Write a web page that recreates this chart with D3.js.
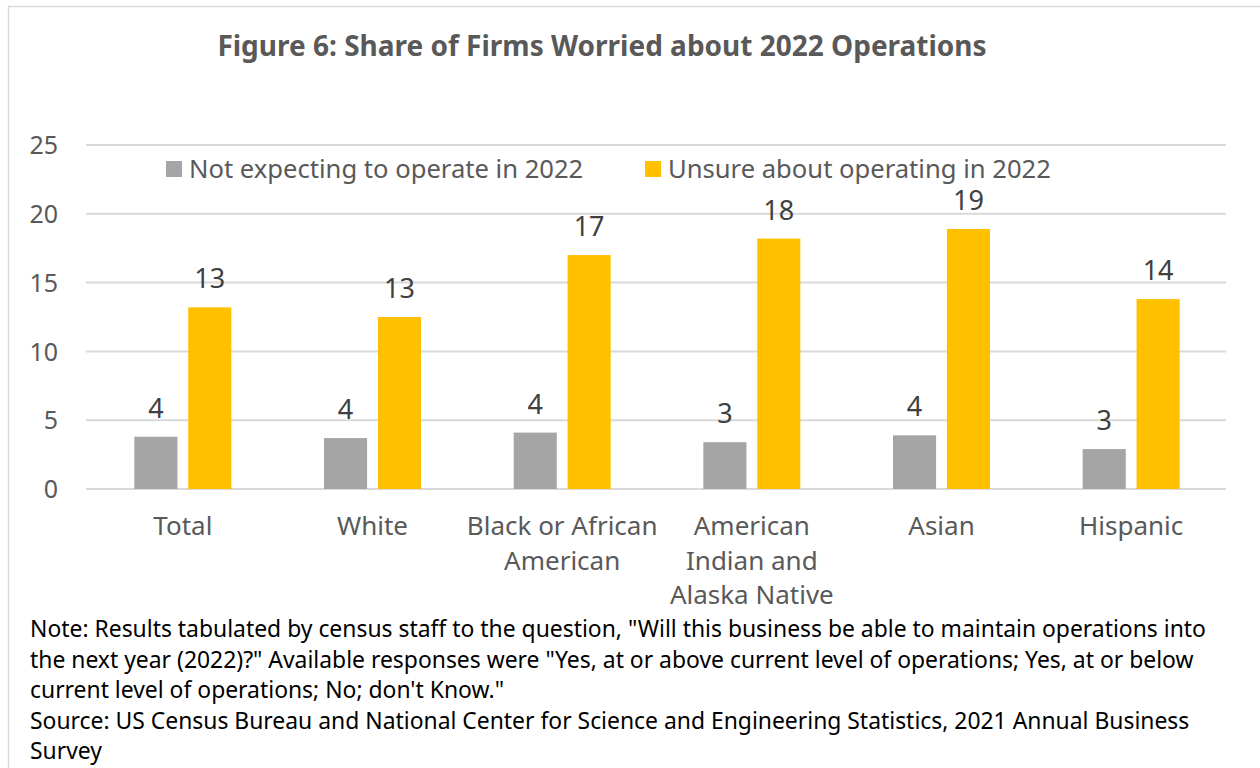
<!DOCTYPE html>
<html>
<head>
<meta charset="utf-8">
<script src="https://cdn.jsdelivr.net/npm/d3@7"></script>
<style>
  html, body { margin: 0; padding: 0; background: #fff; }
  svg { display: block; font-family: "Noto Sans", "Open Sans", sans-serif; }
</style>
</head>
<body>
<svg id="chart" width="1260" height="768"></svg>
<script>
// Share of firms (%) by owner group
const categories = ["Total", "White", "Black or African American", "American Indian and Alaska Native", "Asian", "Hispanic"];
const categoryLines = [["Total"], ["White"], ["Black or African", "American"], ["American", "Indian and", "Alaska Native"], ["Asian"], ["Hispanic"]];
const seriesNames = ["Not expecting to operate in 2022", "Unsure about operating in 2022"];
const notExpecting = [3.8, 3.7, 4.1, 3.4, 3.9, 2.9];
const unsure = [13.2, 12.5, 17.0, 18.2, 18.9, 13.8];
const yTicks = [0, 5, 10, 15, 20, 25];
const colors = ["#a5a5a5", "#ffc000"];
const titleText = "Figure 6: Share of Firms Worried about 2022 Operations";
const noteLines = [
  "Note: Results tabulated by census staff to the question, \"Will this business be able to maintain operations into",
  "the next year (2022)?\" Available responses were \"Yes, at or above current level of operations; Yes, at or below",
  "current level of operations; No; don't Know.\"",
  "Source: US Census Bureau and National Center for Science and Engineering Statistics, 2021 Annual Business",
  "Survey"
];

const rows = categories.map((c, i) => ({ category: c, lines: categoryLines[i], values: [notExpecting[i], unsure[i]] }));

const svg = d3.select("#chart");

// chart frame
svg.append("rect")
  .attr("x", 8.5).attr("y", 6.5)
  .attr("width", 1270).attr("height", 800)
  .attr("fill", "#fff").attr("stroke", "#d9d9d9").attr("stroke-width", 1.5);

svg.append("text")
  .attr("x", 602).attr("y", 56)
  .attr("text-anchor", "middle")
  .attr("font-size", 28).attr("font-weight", "bold")
  .attr("fill", "#595959")
  .text(titleText);

const plot = { left: 88, right: 1226, top: 145, bottom: 489 };

const y = d3.scaleLinear().domain([0, 25]).range([plot.bottom, plot.top]);
const x0 = d3.scaleBand().domain(categories).range([plot.left, plot.right]).padding(0);
const groupW = 97;
const x1 = d3.scaleBand().domain([0, 1]).range([0, groupW]).paddingInner(0.2).paddingOuter(0);

// gridlines
svg.append("g")
  .selectAll("line")
  .data(yTicks)
  .join("line")
  .attr("x1", plot.left - 2).attr("x2", plot.right)
  .attr("y1", d => y(d)).attr("y2", d => y(d))
  .attr("stroke", "#d9d9d9").attr("stroke-width", 2);

// y axis labels
const yAxis = d3.axisLeft(y).tickValues(yTicks).tickSize(0).tickPadding(0).tickFormat(d3.format("d"));
const yg = svg.append("g").attr("transform", `translate(${plot.left - 30},0)`).call(yAxis);
yg.select(".domain").remove();
yg.selectAll("text")
  .attr("font-size", 25).attr("fill", "#595959")
  .attr("font-family", "Noto Sans, sans-serif")
  .attr("dy", "0.35em");

// bars
const groups = svg.append("g")
  .selectAll("g")
  .data(rows)
  .join("g")
  .attr("transform", d => `translate(${x0(d.category) + (x0.bandwidth() - groupW) / 2},0)`);

groups.selectAll("rect")
  .data(d => d.values.map((v, k) => ({ v, k })))
  .join("rect")
  .attr("x", d => x1(d.k))
  .attr("width", x1.bandwidth())
  .attr("y", d => y(d.v))
  .attr("height", d => y(0) - y(d.v))
  .attr("fill", d => colors[d.k]);

// value labels
const fmt = d3.format(".0f");
groups.selectAll("text.val")
  .data(d => d.values.map((v, k) => ({ v, k })))
  .join("text")
  .attr("class", "val")
  .attr("x", d => x1(d.k) + x1.bandwidth() / 2)
  .attr("y", d => y(d.v) - 19)
  .attr("text-anchor", "middle")
  .attr("font-size", 27).attr("fill", "#404040")
  .text(d => fmt(d.v));

// category labels
const cat = svg.append("g")
  .selectAll("text")
  .data(rows)
  .join("text")
  .attr("x", d => x0(d.category) + x0.bandwidth() / 2)
  .attr("y", 535)
  .attr("text-anchor", "middle")
  .attr("font-size", 26).attr("fill", "#595959");
cat.selectAll("tspan")
  .data(d => d.lines.map((t, i) => ({ t, i, cx: x0(d.category) + x0.bandwidth() / 2 })))
  .join("tspan")
  .attr("x", d => d.cx)
  .attr("dy", d => d.i === 0 ? 0 : 34.5)
  .text(d => d.t);

// legend
const legendPos = [{ sx: 166, tx: 189 }, { sx: 645, tx: 668 }];
const legend = svg.append("g")
  .selectAll("g")
  .data(seriesNames)
  .join("g");
legend.append("rect")
  .attr("x", (d, i) => legendPos[i].sx).attr("y", 161)
  .attr("width", 16).attr("height", 16)
  .attr("fill", (d, i) => colors[i]);
legend.append("text")
  .attr("x", (d, i) => legendPos[i].tx).attr("y", 178)
  .attr("font-size", 25.6).attr("fill", "#595959")
  .text(d => d);

// note and source
svg.append("g")
  .selectAll("text")
  .data(noteLines)
  .join("text")
  .attr("x", 30)
  .attr("y", (d, i) => 637 + i * 30.5)
  .attr("font-size", 22.9).attr("fill", "#000")
  .text(d => d);
</script>
</body>
</html>
